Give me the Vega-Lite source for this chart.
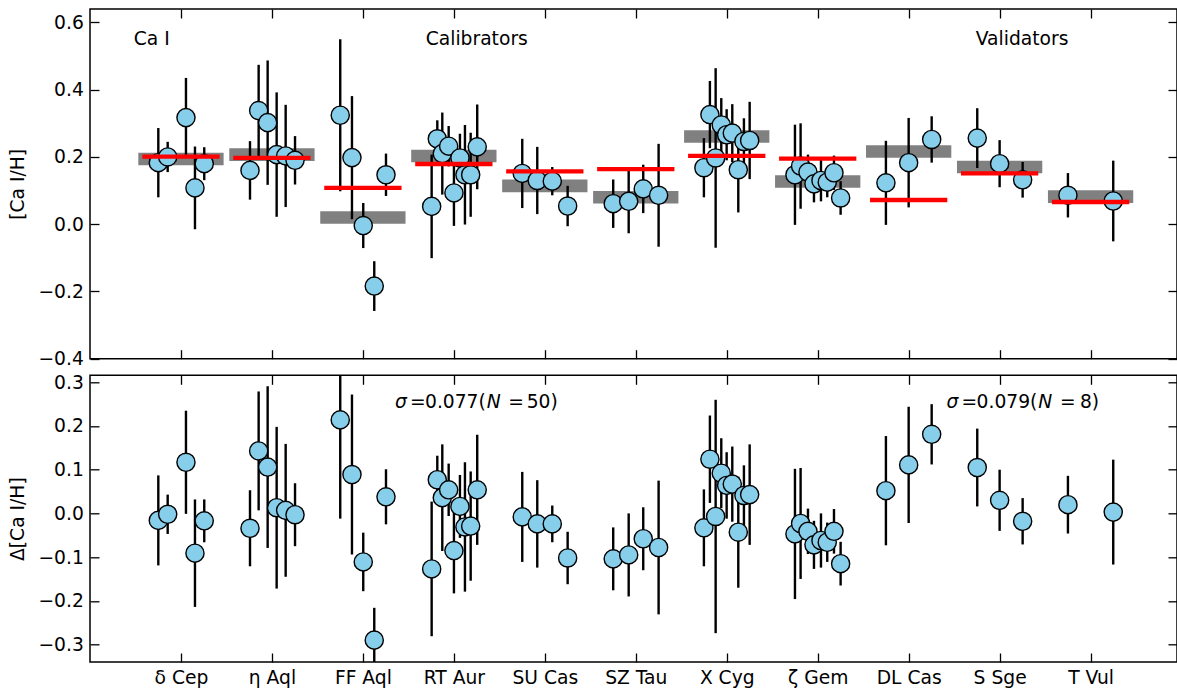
{
  "$schema": "https://vega.github.io/schema/vega-lite/v6.json",
  "padding": {"left": 8, "top": 7, "right": 1, "bottom": 5},
  "bounds": "flush",
  "spacing": 16.3,
  "config": {
    "font": "DejaVu Sans",
    "view": {"stroke": "black", "strokeWidth": 1.5},
    "axis": {"domain": false, "grid": false, "tickSize": -9, "tickWidth": 1.3, "tickColor": "black",
      "labelFont": "DejaVu Sans", "labelFontSize": 18.7, "labelColor": "black",
      "titleFont": "DejaVu Sans", "titleFontSize": 18.7, "titleFontWeight": "normal", "titleColor": "black",
      "labelPadding": 15.7}
  },
  "datasets": {
    "stars": [
      {"i": 1, "name": "δ Cep", "mean": 0.194, "ref": 0.201},
      {"i": 2, "name": "η Aql", "mean": 0.207, "ref": 0.197},
      {"i": 3, "name": "FF Aql", "mean": 0.020, "ref": 0.108},
      {"i": 4, "name": "RT Aur", "mean": 0.203, "ref": 0.179},
      {"i": 5, "name": "SU Cas", "mean": 0.114, "ref": 0.157},
      {"i": 6, "name": "SZ Tau", "mean": 0.080, "ref": 0.164},
      {"i": 7, "name": "X Cyg", "mean": 0.261, "ref": 0.203},
      {"i": 8, "name": "ζ Gem", "mean": 0.127, "ref": 0.195},
      {"i": 9, "name": "DL Cas", "mean": 0.216, "ref": 0.072},
      {"i": 10, "name": "S Sge", "mean": 0.170, "ref": 0.151},
      {"i": 11, "name": "T Vul", "mean": 0.082, "ref": 0.066}
    ],
    "pts": [
      {"star": "δ Cep", "x": 0.751, "v": 0.183, "d": -0.016, "e": 0.103},
      {"star": "δ Cep", "x": 0.854, "v": 0.200, "d": -0.002, "e": 0.045},
      {"star": "δ Cep", "x": 1.055, "v": 0.317, "d": 0.117, "e": 0.118},
      {"star": "δ Cep", "x": 1.154, "v": 0.108, "d": -0.091, "e": 0.123},
      {"star": "δ Cep", "x": 1.256, "v": 0.180, "d": -0.017, "e": 0.049},
      {"star": "η Aql", "x": 1.759, "v": 0.160, "d": -0.034, "e": 0.087},
      {"star": "η Aql", "x": 1.854, "v": 0.338, "d": 0.143, "e": 0.136},
      {"star": "η Aql", "x": 1.953, "v": 0.302, "d": 0.106, "e": 0.185},
      {"star": "η Aql", "x": 2.052, "v": 0.207, "d": 0.013, "e": 0.185},
      {"star": "η Aql", "x": 2.151, "v": 0.203, "d": 0.007, "e": 0.152},
      {"star": "η Aql", "x": 2.254, "v": 0.190, "d": -0.003, "e": 0.072},
      {"star": "FF Aql", "x": 2.751, "v": 0.324, "d": 0.214, "e": 0.226},
      {"star": "FF Aql", "x": 2.880, "v": 0.198, "d": 0.089, "e": 0.183},
      {"star": "FF Aql", "x": 3.004, "v": -0.004, "d": -0.111, "e": 0.067},
      {"star": "FF Aql", "x": 3.125, "v": -0.184, "d": -0.290, "e": 0.074},
      {"star": "FF Aql", "x": 3.254, "v": 0.147, "d": 0.038, "e": 0.063},
      {"star": "RT Aur", "x": 3.756, "v": 0.053, "d": -0.127, "e": 0.154},
      {"star": "RT Aur", "x": 3.818, "v": 0.254, "d": 0.077, "e": 0.055},
      {"star": "RT Aur", "x": 3.873, "v": 0.210, "d": 0.036, "e": 0.122},
      {"star": "RT Aur", "x": 3.943, "v": 0.232, "d": 0.054, "e": 0.060},
      {"star": "RT Aur", "x": 4.001, "v": 0.093, "d": -0.085, "e": 0.098},
      {"star": "RT Aur", "x": 4.067, "v": 0.197, "d": 0.016, "e": 0.072},
      {"star": "RT Aur", "x": 4.122, "v": 0.147, "d": -0.031, "e": 0.148},
      {"star": "RT Aur", "x": 4.185, "v": 0.147, "d": -0.029, "e": 0.125},
      {"star": "RT Aur", "x": 4.257, "v": 0.230, "d": 0.054, "e": 0.126},
      {"star": "SU Cas", "x": 4.752, "v": 0.151, "d": -0.008, "e": 0.103},
      {"star": "SU Cas", "x": 4.917, "v": 0.130, "d": -0.024, "e": 0.100},
      {"star": "SU Cas", "x": 5.082, "v": 0.128, "d": -0.024, "e": 0.042},
      {"star": "SU Cas", "x": 5.251, "v": 0.054, "d": -0.102, "e": 0.060},
      {"star": "SZ Tau", "x": 5.752, "v": 0.061, "d": -0.104, "e": 0.072},
      {"star": "SZ Tau", "x": 5.922, "v": 0.068, "d": -0.095, "e": 0.095},
      {"star": "SZ Tau", "x": 6.082, "v": 0.105, "d": -0.058, "e": 0.072},
      {"star": "SZ Tau", "x": 6.251, "v": 0.086, "d": -0.078, "e": 0.153},
      {"star": "X Cyg", "x": 6.749, "v": 0.168, "d": -0.033, "e": 0.088},
      {"star": "X Cyg", "x": 6.815, "v": 0.326, "d": 0.124, "e": 0.100},
      {"star": "X Cyg", "x": 6.878, "v": 0.197, "d": -0.007, "e": 0.267},
      {"star": "X Cyg", "x": 6.940, "v": 0.295, "d": 0.092, "e": 0.080},
      {"star": "X Cyg", "x": 6.999, "v": 0.266, "d": 0.064, "e": 0.076},
      {"star": "X Cyg", "x": 7.061, "v": 0.271, "d": 0.067, "e": 0.086},
      {"star": "X Cyg", "x": 7.127, "v": 0.162, "d": -0.043, "e": 0.127},
      {"star": "X Cyg", "x": 7.189, "v": 0.246, "d": 0.041, "e": 0.069},
      {"star": "X Cyg", "x": 7.252, "v": 0.249, "d": 0.043, "e": 0.115},
      {"star": "ζ Gem", "x": 7.750, "v": 0.147, "d": -0.047, "e": 0.149},
      {"star": "ζ Gem", "x": 7.812, "v": 0.173, "d": -0.023, "e": 0.127},
      {"star": "ζ Gem", "x": 7.893, "v": 0.155, "d": -0.041, "e": 0.052},
      {"star": "ζ Gem", "x": 7.959, "v": 0.120, "d": -0.072, "e": 0.055},
      {"star": "ζ Gem", "x": 8.036, "v": 0.130, "d": -0.062, "e": 0.062},
      {"star": "ζ Gem", "x": 8.105, "v": 0.125, "d": -0.066, "e": 0.045},
      {"star": "ζ Gem", "x": 8.179, "v": 0.153, "d": -0.041, "e": 0.051},
      {"star": "ζ Gem", "x": 8.252, "v": 0.078, "d": -0.115, "e": 0.050},
      {"star": "DL Cas", "x": 8.750, "v": 0.123, "d": 0.052, "e": 0.125},
      {"star": "DL Cas", "x": 9.000, "v": 0.183, "d": 0.111, "e": 0.133},
      {"star": "DL Cas", "x": 9.253, "v": 0.252, "d": 0.181, "e": 0.069},
      {"star": "S Sge", "x": 9.754, "v": 0.256, "d": 0.105, "e": 0.089},
      {"star": "S Sge", "x": 10.000, "v": 0.180, "d": 0.030, "e": 0.070},
      {"star": "S Sge", "x": 10.253, "v": 0.132, "d": -0.018, "e": 0.053},
      {"star": "T Vul", "x": 10.751, "v": 0.086, "d": 0.020, "e": 0.066},
      {"star": "T Vul", "x": 11.249, "v": 0.069, "d": 0.003, "e": 0.120}
    ],
    "labels": [
      {"x": 0.679, "y": 0.551, "text": "Ca I"},
      {"x": 4.252, "y": 0.552, "text": "Calibrators"},
      {"x": 10.247, "y": 0.552, "text": "Validators"}
    ],
    "stats": [
      {"x": 3.353, "y": 0.255, "text": "σ", "italic": true},
      {"x": 3.518, "y": 0.255, "text": "=", "italic": false},
      {"x": 3.683, "y": 0.255, "text": "0.077(", "italic": false},
      {"x": 4.361, "y": 0.255, "text": "N", "italic": true},
      {"x": 4.599, "y": 0.255, "text": "=", "italic": false},
      {"x": 4.801, "y": 0.255, "text": "50)", "italic": false},
      {"x": 9.417, "y": 0.255, "text": "σ", "italic": true},
      {"x": 9.582, "y": 0.255, "text": "=", "italic": false},
      {"x": 9.747, "y": 0.255, "text": "0.079(", "italic": false},
      {"x": 10.426, "y": 0.255, "text": "N", "italic": true},
      {"x": 10.664, "y": 0.255, "text": "=", "italic": false},
      {"x": 10.883, "y": 0.255, "text": "8)", "italic": false}
    ]
  },
  "vconcat": [
    {
      "width": 1087,
      "height": 349.7,
      "layer": [
        {
          "data": {"name": "stars"},
          "mark": {"type": "tick", "orient": "horizontal", "size": 85.3, "thickness": 12.6, "color": "#808080", "opacity": 1},
          "encoding": {
            "x": {"field": "i", "type": "quantitative", "scale": {"domain": [0, 11.95], "nice": false, "zero": false},
              "axis": {"orient": "bottom", "values": [1,2,3,4,5,6,7,8,9,10,11], "labels": false, "title": null}},
            "y": {"field": "mean", "type": "quantitative", "scale": {"domain": [-0.4, 0.64], "nice": false, "zero": false},
              "axis": {"orient": "left", "values": [-0.4, -0.2, 0, 0.2, 0.4, 0.6], "format": ".1f", "title": "[Ca I/H]", "titlePadding": 10}}
          }
        },
        {
          "data": {"name": "pts"},
          "mark": {"type": "errorbar", "color": "black", "thickness": 2.4},
          "encoding": {
            "x": {"field": "x", "type": "quantitative", "axis": null},
            "y": {"field": "v", "type": "quantitative", "axis": null},
            "yError": {"field": "e"}
          }
        },
        {
          "data": {"name": "pts"},
          "mark": {"type": "point", "shape": "circle", "filled": true, "size": 330, "fill": "#87CEEB", "stroke": "black", "strokeWidth": 1.4, "opacity": 1},
          "encoding": {
            "x": {"field": "x", "type": "quantitative", "axis": null},
            "y": {"field": "v", "type": "quantitative", "axis": null}
          }
        },
        {
          "data": {"name": "stars"},
          "mark": {"type": "tick", "orient": "horizontal", "size": 77.3, "thickness": 4.3, "color": "#ff0000", "opacity": 1},
          "encoding": {
            "x": {"field": "i", "type": "quantitative",
              "axis": {"orient": "top", "values": [1,2,3,4,5,6,7,8,9,10,11], "labels": false, "title": null}},
            "y": {"field": "ref", "type": "quantitative",
              "axis": {"orient": "right", "values": [-0.4, -0.2, 0, 0.2, 0.4, 0.6], "labels": false, "title": null}}
          }
        },
        {
          "mark": {"type": "rule", "color": "black", "strokeWidth": 2, "strokeDash": [2, 3.3]},
          "encoding": {"x": {"datum": 8.5, "axis": null}}
        },
        {
          "data": {"name": "labels"},
          "mark": {"type": "text", "fontSize": 18.7, "color": "black", "baseline": "middle", "align": "center"},
          "encoding": {
            "x": {"field": "x", "type": "quantitative", "axis": null},
            "y": {"field": "y", "type": "quantitative", "axis": null},
            "text": {"field": "text"}
          }
        }
      ],
      "resolve": {"axis": {"x": "independent", "y": "independent"}}
    },
    {
      "width": 1087,
      "height": 286.7,
      "layer": [
        {
          "mark": {"type": "rule", "color": "black", "strokeWidth": 2},
          "encoding": {"y": {"datum": 0, "type": "quantitative", "scale": {"domain": [-0.34, 0.316], "nice": false, "zero": false, "clamp": true},
              "axis": {"orient": "left", "values": [-0.3, -0.2, -0.1, 0, 0.1, 0.2, 0.3], "format": ".1f", "title": "Δ[Ca I/H]", "titlePadding": 10}}}
        },
        {
          "data": {"name": "pts"},
          "mark": {"type": "errorbar", "color": "black", "thickness": 2.4},
          "encoding": {
            "x": {"field": "x", "type": "quantitative", "scale": {"domain": [0, 11.95], "nice": false, "zero": false},
              "axis": {"orient": "bottom", "values": [1,2,3,4,5,6,7,8,9,10,11], "title": null,
                "labelExpr": "['', 'δ Cep', 'η Aql', 'FF Aql', 'RT Aur', 'SU Cas', 'SZ Tau', 'X Cyg', 'ζ Gem', 'DL Cas', 'S Sge', 'T Vul'][datum.value]"}},
            "y": {"field": "d", "type": "quantitative", "axis": null},
            "yError": {"field": "e"}
          }
        },
        {
          "data": {"name": "pts"},
          "mark": {"type": "point", "shape": "circle", "filled": true, "size": 330, "fill": "#87CEEB", "stroke": "black", "strokeWidth": 1.4, "opacity": 1},
          "encoding": {
            "x": {"field": "x", "type": "quantitative",
              "axis": {"orient": "top", "values": [1,2,3,4,5,6,7,8,9,10,11], "labels": false, "title": null}},
            "y": {"field": "d", "type": "quantitative",
              "axis": {"orient": "right", "values": [-0.3, -0.2, -0.1, 0, 0.1, 0.2, 0.3], "labels": false, "title": null}}
          }
        },
        {
          "mark": {"type": "rule", "color": "black", "strokeWidth": 2, "strokeDash": [2, 3.3]},
          "encoding": {"x": {"datum": 8.5, "axis": null}}
        },
        {
          "data": {"name": "stats"},
          "transform": [{"filter": "datum.italic"}],
          "mark": {"type": "text", "fontSize": 18.7, "fontStyle": "italic", "color": "black", "baseline": "middle", "align": "left"},
          "encoding": {
            "x": {"field": "x", "type": "quantitative", "axis": null},
            "y": {"field": "y", "type": "quantitative", "axis": null},
            "text": {"field": "text"}
          }
        },
        {
          "data": {"name": "stats"},
          "transform": [{"filter": "!datum.italic"}],
          "mark": {"type": "text", "fontSize": 18.7, "color": "black", "baseline": "middle", "align": "left"},
          "encoding": {
            "x": {"field": "x", "type": "quantitative", "axis": null},
            "y": {"field": "y", "type": "quantitative", "axis": null},
            "text": {"field": "text"}
          }
        }
      ],
      "resolve": {"axis": {"x": "independent", "y": "independent"}}
    }
  ]
}
